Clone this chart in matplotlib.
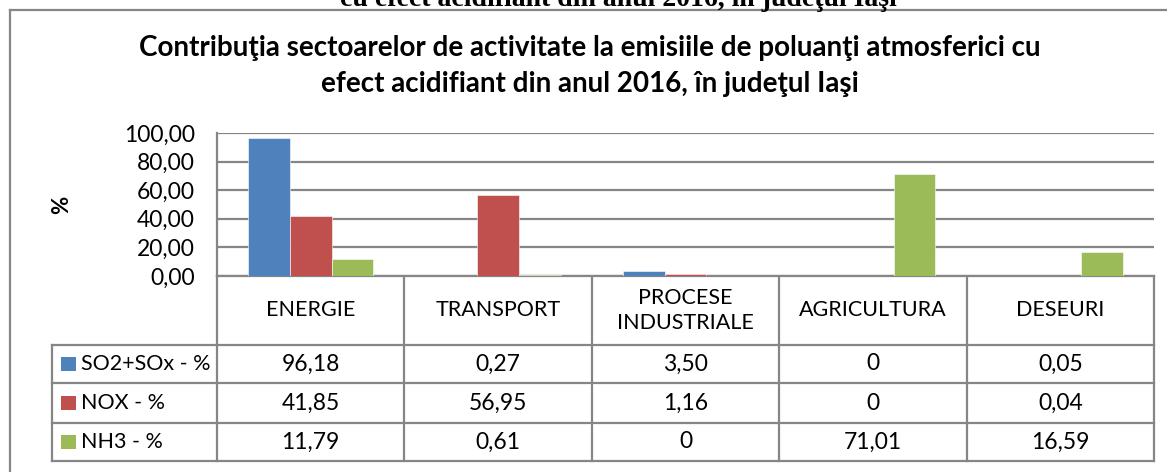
import matplotlib
matplotlib.use("Agg")
import matplotlib.pyplot as plt
from matplotlib.patches import Rectangle
from matplotlib.lines import Line2D

plt.rcParams['font.family'] = ['Lato', 'DejaVu Sans']

categories = ["ENERGIE", "TRANSPORT", "PROCESE\nINDUSTRIALE", "AGRICULTURA", "DESEURI"]
series_names = ["SO2+SOx - %", "NOX - %", "NH3 - %"]
so2 = [96.18, 0.27, 3.50, 0, 0.05]
nox = [41.85, 56.95, 1.16, 0, 0.04]
nh3 = [11.79, 0.61, 0, 71.01, 16.59]
series = [so2, nox, nh3]
colors = ["#4F81BD", "#C0504D", "#9BBB59"]
yticks = [0, 20, 40, 60, 80, 100]
title = "Contribuţia sectoarelor de activitate la emisiile de poluanţi atmosferici cu\nefect acidifiant din anul 2016, în judeţul Iaşi"
clipped = "cu efect acidifiant din anul 2016, în judeţul Iaşi"

W, H = 1167, 472
fig = plt.figure(figsize=(W / 100, H / 100), dpi=100)
GRAY = "#868686"

def fx(px):
    return px / W

def fy(py):
    return 1 - py / H

# overlay axes in pixel coords
ov = fig.add_axes([0, 0, 1, 1])
ov.set_xlim(0, W)
ov.set_ylim(H, 0)
ov.axis("off")

# bar axes
L, R, T, B = 217, 1154, 133, 276
ax = fig.add_axes([fx(L), fy(B), fx(R) - fx(L), fy(T) - fy(B)])
n = len(categories)
ax.set_xlim(-0.5, n - 0.5)
ax.set_ylim(0, 100)
bw = 0.222
for i, (vals, c) in enumerate(zip(series, colors)):
    xs = [k + (i - 1) * bw for k in range(n)]
    ax.bar(xs, vals, width=bw, color=c, edgecolor="white", linewidth=0.4, zorder=3)
ax.set_yticks(yticks)
ax.set_yticklabels([f"{v:.2f}".replace(".", ",") for v in yticks], fontsize=16.5)
ax.tick_params(axis="y", length=0, pad=16)
ax.set_xticks([])
ax.yaxis.grid(True, color=GRAY, linewidth=1.6, zorder=0)
for s in ["top", "right"]:
    ax.spines[s].set_visible(False)
for s in ["left", "bottom"]:
    ax.spines[s].set_color(GRAY)
    ax.spines[s].set_linewidth(1.6)
ax.set_ylabel("%", fontsize=16, fontweight="bold", labelpad=0)
ax.yaxis.set_label_coords((fx(72) - fx(L)) / (fx(R) - fx(L)), 0.5)

# outer border
ov.add_line(Line2D([10, 10], [10, H], color=GRAY, lw=1.6))
ov.add_line(Line2D([10, W], [10, 10], color=GRAY, lw=1.6))

# clipped caption above the chart
ov.text(W / 2 + 35, 6, clipped, ha="center", va="baseline", fontsize=20,
        family=["Liberation Serif"], fontweight="bold")

# title
ov.text(590, 66, title, ha="center", va="center", fontsize=20,
        fontweight="bold", linespacing=1.5)

# table
colw = (R - L) / n
row_y = [B, 345, 383, 423, 461]
lw = 1.6
for k in range(n + 1):
    x = L + k * colw
    ov.add_line(Line2D([x, x], [B, row_y[-1]], color=GRAY, lw=lw))
ov.add_line(Line2D([52, 52], [row_y[1], row_y[-1]], color=GRAY, lw=lw))
for y in row_y[1:]:
    ov.add_line(Line2D([52, R], [y, y], color=GRAY, lw=lw))

for k, cat in enumerate(categories):
    cx = L + (k + 0.5) * colw
    ov.text(cx, (row_y[0] + row_y[1]) / 2, cat, ha="center", va="center",
            fontsize=15.5, linespacing=1.3)

def fmt(v):
    if v == 0:
        return "0"
    return f"{v:.2f}".replace(".", ",")

for r, (name, vals, c) in enumerate(zip(series_names, series, colors)):
    cy = (row_y[r + 1] + row_y[r + 2]) / 2
    ov.add_patch(Rectangle((61, cy - 7.5), 14.5, 14.5, facecolor=c, edgecolor="none"))
    ov.text(81, cy, name, ha="left", va="center", fontsize=15.5)
    for k, v in enumerate(vals):
        cx = L + (k + 0.5) * colw
        ov.text(cx, cy, fmt(v), ha="center", va="center", fontsize=16.5)

fig.savefig("out.png", dpi=100)
